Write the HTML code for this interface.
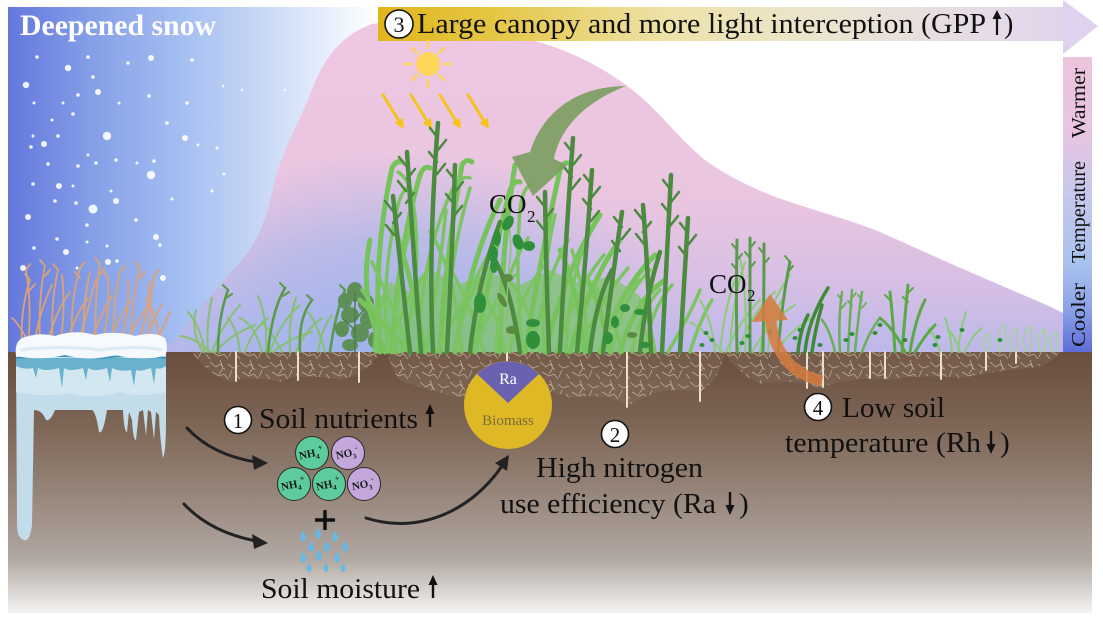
<!DOCTYPE html>
<html><head><meta charset="utf-8"><style>
html,body{margin:0;padding:0;background:#fff;}
svg{display:block;}
text{font-family:"Liberation Serif",serif;}
.l{stroke:#7cc462;fill:none;stroke-width:3.5;stroke-linecap:round}
.lw{stroke:#76c35c;fill:none;stroke-width:5;stroke-linecap:round}
.d{stroke:#4b8a3f;fill:none;stroke-width:4.5;stroke-linecap:round}
.h{stroke:#4b8a3f;fill:none;stroke-width:2.5;stroke-linecap:round}
.s{stroke:#86c070;fill:none;stroke-width:2;stroke-linecap:round}
.sd{stroke:#5a9a4a;fill:none;stroke-width:2.6;stroke-linecap:round}
.t{stroke:#dba276;fill:none;stroke-width:1.8;stroke-linecap:round}
.tf{fill:#fff;opacity:.9}
.lf{fill:#2f8f3a}
</style></head><body>
<svg width="1103" height="623" viewBox="0 0 1103 623" xmlns="http://www.w3.org/2000/svg">
<defs>
<linearGradient id="sky" gradientUnits="userSpaceOnUse" x1="8" y1="0" x2="1092" y2="0">
<stop offset="0" stop-color="#6478dc"/><stop offset="0.08" stop-color="#86a0e8"/><stop offset="0.17" stop-color="#a9c2f2"/><stop offset="0.24" stop-color="#cbdaf6"/><stop offset="0.3" stop-color="#eaf1fc"/><stop offset="0.34" stop-color="#ffffff"/>
</linearGradient>
<linearGradient id="pink" gradientUnits="userSpaceOnUse" x1="0" y1="20" x2="0" y2="352">
<stop offset="0" stop-color="#efc8e2"/><stop offset="0.55" stop-color="#e9c5e0"/><stop offset="0.8" stop-color="#d6bfe4"/><stop offset="1" stop-color="#bcb8ea"/>
</linearGradient>
<radialGradient id="blu" gradientUnits="userSpaceOnUse" cx="400" cy="360" r="290" gradientTransform="translate(400 360) scale(1 0.72) translate(-400 -360)">
<stop offset="0" stop-color="#98b0ec" stop-opacity="0.95"/><stop offset="0.6" stop-color="#a4b6ec" stop-opacity="0.6"/><stop offset="1" stop-color="#a8b8ec" stop-opacity="0"/>
</radialGradient>
<linearGradient id="ban" gradientUnits="userSpaceOnUse" x1="378" y1="0" x2="1098" y2="0">
<stop offset="0" stop-color="#e1b51c"/><stop offset="0.15" stop-color="#e5c540"/><stop offset="0.4" stop-color="#ede2a8"/><stop offset="0.62" stop-color="#ebe4cf"/><stop offset="0.85" stop-color="#e5dbe8"/><stop offset="1" stop-color="#dfd2ee"/>
</linearGradient>
<linearGradient id="temp" gradientUnits="userSpaceOnUse" x1="0" y1="57" x2="0" y2="352">
<stop offset="0" stop-color="#ecc4de"/><stop offset="0.25" stop-color="#e8c5e0"/><stop offset="0.45" stop-color="#c8c8ec"/><stop offset="0.7" stop-color="#a9c2ee"/><stop offset="0.85" stop-color="#8ca4e6"/><stop offset="1" stop-color="#5e6cd6"/>
</linearGradient>
<linearGradient id="soil" gradientUnits="userSpaceOnUse" x1="0" y1="352" x2="0" y2="613">
<stop offset="0" stop-color="#6a4e3d"/><stop offset="0.1" stop-color="#705646"/><stop offset="0.3" stop-color="#7f6858"/><stop offset="0.49" stop-color="#917f72"/><stop offset="0.68" stop-color="#a59890"/><stop offset="0.8" stop-color="#b2a9a3"/><stop offset="0.9" stop-color="#d4cfcc"/><stop offset="1" stop-color="#f4f3f3"/>
</linearGradient>
<pattern id="rp" patternUnits="userSpaceOnUse" width="30" height="20">
<path d="M0,2 l6,5 l4,-3 l5,6 M10,0 l3,8 l-4,6 M18,4 l5,4 l6,-2 M22,10 l-3,7 M2,12 l7,4 l5,-2 M14,14 l4,5 M26,14 l4,5" stroke="#bfac99" stroke-width="0.8" fill="none"/>
</pattern>
</defs>

<rect width="1103" height="623" fill="#fff"/>
<!-- sky -->
<rect x="8" y="7" width="1084" height="346" fill="url(#sky)"/>
<!-- mountain -->
<path d="M165,352 C185,325 215,290 240,262 C262,238 268,210 275,180 C285,145 300,120 312,90 C322,62 340,35 372,24 C420,18 500,30 545,44 C580,55 610,72 635,92 C660,112 680,140 705,160 C730,178 760,192 790,202 C820,212 850,220 880,232 C920,250 960,268 1000,285 C1030,298 1050,306 1063,313 L1063,352 Z" fill="url(#pink)"/>
<path d="M165,352 C185,325 215,290 240,262 C262,238 268,210 275,180 C285,145 300,120 312,90 C322,62 340,35 372,24 C420,18 500,30 545,44 C580,55 610,72 635,92 C660,112 680,140 705,160 C730,178 760,192 790,202 C820,212 850,220 880,232 C920,250 960,268 1000,285 C1030,298 1050,306 1063,313 L1063,352 Z" fill="url(#blu)"/>

<!-- banner -->
<rect x="378" y="7" width="686" height="34" fill="url(#ban)"/>
<polygon points="1063,0 1098,26 1063,54" fill="#dfd2ee"/>
<circle cx="399" cy="24" r="14" fill="#fff" stroke="#111" stroke-width="1.6"/>
<text x="399" y="32" font-size="22" text-anchor="middle" fill="#111">3</text>
<text x="417" y="33" font-size="28" fill="#111" textLength="569" lengthAdjust="spacingAndGlyphs">Large canopy and more light interception (GPP</text>
<path d="M997,35 L997,17" stroke="#111" stroke-width="2.2"/><polygon points="992.5,19 997,10 1001.5,19" fill="#111"/>
<text x="1004" y="33" font-size="28" fill="#111">)</text>

<!-- temperature bar -->
<rect x="1063" y="57" width="29" height="295" fill="url(#temp)"/>
<text transform="translate(1085 103) rotate(-90)" font-size="20" text-anchor="middle" fill="#111" textLength="70" lengthAdjust="spacingAndGlyphs">Warmer</text>
<text transform="translate(1085 212) rotate(-90)" font-size="20" text-anchor="middle" fill="#111" textLength="102" lengthAdjust="spacingAndGlyphs">Temperature</text>
<text transform="translate(1085 315) rotate(-90)" font-size="20" text-anchor="middle" fill="#111" textLength="64" lengthAdjust="spacingAndGlyphs">Cooler</text>

<!-- title -->
<text x="20" y="35" font-size="30" font-weight="bold" fill="#fff" textLength="196" lengthAdjust="spacingAndGlyphs">Deepened snow</text>

<!-- snowflakes -->
<g class="tf">
<circle cx="37" cy="57" r="1.8"/><circle cx="88" cy="57" r="1.8"/><circle cx="128" cy="63" r="1.8"/><circle cx="192" cy="60" r="1.8"/><circle cx="93" cy="77" r="1.8"/><circle cx="78" cy="95" r="1.8"/><circle cx="149" cy="96" r="1.8"/><circle cx="187" cy="103" r="1.8"/><circle cx="34" cy="103" r="1.5"/><circle cx="63" cy="103" r="1.5"/><circle cx="119" cy="103" r="1.5"/><circle cx="73" cy="114" r="1.8"/><circle cx="167" cy="123" r="1.8"/><circle cx="52" cy="120" r="1.5"/><circle cx="58" cy="136" r="1.8"/><circle cx="33" cy="136" r="1.5"/><circle cx="31" cy="147" r="1.8"/><circle cx="88" cy="155" r="1.5"/><circle cx="96" cy="163" r="1.8"/><circle cx="116" cy="160" r="1.8"/><circle cx="154" cy="161" r="1.8"/><circle cx="78" cy="166" r="1.8"/><circle cx="48" cy="164" r="1.8"/><circle cx="137" cy="163" r="1.5"/><circle cx="33" cy="184" r="1.8"/><circle cx="111" cy="191" r="1.5"/><circle cx="73" cy="186" r="1.5"/><circle cx="55" cy="201" r="1.8"/><circle cx="76" cy="203" r="1.8"/><circle cx="212" cy="191" r="1.5"/><circle cx="172" cy="199" r="1.5"/><circle cx="136" cy="220" r="1.8"/><circle cx="87" cy="225" r="1.8"/><circle cx="57" cy="239" r="1.8"/><circle cx="34" cy="248" r="1.8"/><circle cx="160" cy="245" r="1.8"/><circle cx="87" cy="242" r="1.5"/><circle cx="107" cy="246" r="1.5"/><circle cx="77" cy="268" r="1.5"/><circle cx="117" cy="261" r="1.8"/><circle cx="198" cy="145" r="1.5"/><circle cx="217" cy="148" r="1.5"/><circle cx="224" cy="174" r="1.5"/><circle cx="242" cy="90" r="1.2"/><circle cx="223" cy="86" r="1.2"/><circle cx="285" cy="90" r="1.2"/>
<circle cx="68" cy="68" r="3.2"/><circle cx="26" cy="85" r="3.2"/><circle cx="98" cy="92" r="3"/><circle cx="107" cy="136" r="4.2"/><circle cx="44" cy="144" r="3"/><circle cx="151" cy="175" r="4.2"/><circle cx="93" cy="209" r="4.5"/><circle cx="59" cy="186" r="3"/><circle cx="116" cy="201" r="3"/><circle cx="28" cy="217" r="3"/><circle cx="156" cy="237" r="3"/><circle cx="66" cy="252" r="3"/><circle cx="185" cy="138" r="3"/><circle cx="23" cy="268" r="3"/><circle cx="163" cy="278" r="3"/><circle cx="108" cy="262" r="3"/><circle cx="151" cy="58" r="3"/>
</g>

<!-- sun -->
<g stroke="#fdd35a" stroke-width="2.5" stroke-linecap="round">
<path d="M428,48 L428,41 M428,80 L428,87 M412,64 L405,64 M444,64 L451,64 M417,53 L412,48 M439,53 L444,48 M417,75 L412,80 M439,75 L444,80"/>
</g>
<circle cx="428" cy="64" r="12" fill="#fdd55a"/>
<!-- yellow arrows -->
<g stroke="#f4c41a" stroke-width="3" stroke-linecap="round" fill="#f4c41a">
<path d="M383,95 L399,121"/><polygon points="404,129 394.5,123 403,118" stroke="none"/>
<path d="M411,95 L427,121"/><polygon points="432,129 422.5,123 431,118" stroke="none"/>
<path d="M440,95 L456,121"/><polygon points="461,129 451.5,123 460,118" stroke="none"/>
<path d="M468,95 L484,121"/><polygon points="489,129 479.5,123 488,118" stroke="none"/>
</g>

<!-- soil -->
<rect x="8" y="352" width="1084" height="261" fill="url(#soil)"/>
<!-- root zones -->
<g>
<path d="M192,352 L380,352 Q370,372 340,380 Q300,372 280,382 Q250,375 230,382 Q205,372 192,352 Z" fill="#a08a78" opacity=".2"/>
<path d="M388,352 L725,352 Q720,380 700,392 Q660,385 630,405 Q600,392 570,398 Q540,385 520,395 Q480,388 460,398 Q420,388 400,380 Q390,368 388,352Z" fill="#a08a78" opacity=".2"/>
<path d="M725,352 L1060,352 Q1050,366 1030,368 Q990,372 960,378 Q920,374 890,380 Q850,376 820,388 Q790,378 760,384 Q735,372 725,352Z" fill="#a08a78" opacity=".2"/>
<path d="M192,352 L380,352 Q370,372 340,380 Q300,372 280,382 Q250,375 230,382 Q205,372 192,352 Z" fill="url(#rp)"/>
<path d="M388,352 L725,352 Q720,380 700,392 Q660,385 630,405 Q600,392 570,398 Q540,385 520,395 Q480,388 460,398 Q420,388 400,380 Q390,368 388,352Z" fill="url(#rp)"/>
<path d="M725,352 L1060,352 Q1050,366 1030,368 Q990,372 960,378 Q920,374 890,380 Q850,376 820,388 Q790,378 760,384 Q735,372 725,352Z" fill="url(#rp)"/>
</g>
<!-- taproots -->
<g stroke="#eadfcf" stroke-width="2" stroke-linecap="round">
<path d="M236,352 L236,381 M298,352 L298,380 M359,352 L359,382 M507,352 L507,362 M627,352 L627,407 M700,352 L700,401 M807,352 L807,388 M823,352 L823,387 M870,352 L870,378 M885,352 L885,378 M941,352 L941,379 M986,352 L986,370 M1016,352 L1016,363"/>
</g>

<!-- ice block -->
<path d="M16,352 L166,352 L166,420 Q166,452 163,458 Q160,440 159,415 L156,412 L154,440 L151,412 L148,410 L146,436 L143,410 L139,412 L136,440 Q133,440 132,420 L129,412 L127,432 Q124,432 123,410 L107,410 Q103,435 99,432 Q96,412 92,410 L55,410 Q50,422 46,420 Q42,410 34,410 L32,525 Q30,542 24,540 Q17,538 17,525 Z" fill="#c3dcea"/>
<path d="M16,352 L166,352 L166,392 Q140,398 120,392 Q95,400 70,393 Q45,398 16,392 Z" fill="#d3e7f1"/>
<path d="M16,358 L166,358 L166,366 Q160,370 156,368 L154,384 L151,368 Q140,372 136,370 L134,386 L131,370 Q120,372 112,368 L110,382 L107,368 Q95,372 88,368 L86,380 L83,368 Q70,372 64,368 L62,388 L59,368 Q45,372 38,368 L36,378 L33,368 Q24,370 16,366 Z" fill="#69b1cd"/>
<path d="M16,358 Q60,354 100,358 Q140,354 166,358" stroke="#3f93b8" stroke-width="2" fill="none"/>
<!-- dry grass -->
<g class="t">
<path d="M22,345 Q20,310 30,280"/><path d="M28,345 Q32,305 26,270"/><path d="M34,345 Q40,310 52,285"/><path d="M40,345 Q38,300 45,266"/><path d="M47,345 Q55,312 70,292"/><path d="M53,345 Q50,305 58,270"/><path d="M60,345 Q66,310 62,275"/><path d="M66,345 Q75,315 88,298"/><path d="M72,345 Q70,300 80,268"/><path d="M78,345 Q88,310 95,282"/><path d="M84,345 Q82,305 90,272"/><path d="M90,345 Q100,315 112,296"/><path d="M96,345 Q94,300 100,264"/><path d="M102,345 Q110,312 108,278"/><path d="M108,345 Q118,318 130,302"/><path d="M114,345 Q112,305 120,272"/><path d="M120,345 Q130,312 128,280"/><path d="M126,345 Q136,320 150,305"/><path d="M132,345 Q130,305 140,268"/><path d="M138,345 Q148,315 150,282"/><path d="M144,345 Q152,320 162,305"/><path d="M150,345 Q148,310 154,276"/><path d="M156,345 Q164,325 170,312"/><path d="M160,345 Q158,318 146,298"/><path d="M30,345 Q20,325 12,318"/>
<path d="M30,280 l-5,-6 M30,290 l5,-6 M45,266 l-5,-6 M45,276 l5,-6 M58,270 l-5,-6 M80,268 l5,-6 M80,278 l-5,-6 M100,264 l-5,-6 M100,274 l5,-6 M120,272 l5,-6 M140,268 l-5,-6 M140,278 l5,-6 M154,276 l5,-6 M26,270 l4,-6 M95,282 l4,-6 M108,278 l-4,-6"/>
</g>
<path d="M16,356 Q14,340 25,337 Q40,332 55,336 Q75,329 95,335 Q115,330 135,336 Q155,331 165,338 Q169,348 165,356 Q140,361 115,355 Q90,362 65,355 Q40,361 16,356 Z" fill="#f6f9fd"/>
<path d="M20,350 Q60,345 100,350 Q140,345 162,350" stroke="#dcebf4" stroke-width="3" fill="none"/>

<!-- left small plants -->
<g class="s">
<path d="M205,352 Q200,325 188,312"/><path d="M208,352 Q206,322 212,298"/><path d="M212,352 Q222,325 240,305"/><path d="M215,352 Q230,335 255,325"/><path d="M210,352 Q196,338 180,336"/><path d="M203,352 Q190,330 196,310"/>
<path d="M262,352 Q255,325 240,318"/><path d="M266,352 Q268,320 258,296"/><path d="M270,352 Q280,322 300,305"/><path d="M273,352 Q290,338 312,332"/><path d="M290,352 Q288,320 296,298"/><path d="M296,352 Q305,330 322,318"/><path d="M282,352 Q270,330 262,322"/>
<path d="M325,352 Q318,325 308,312"/><path d="M318,352 Q322,328 332,315"/><path d="M240,352 Q238,330 228,318"/><path d="M245,352 Q252,330 268,318"/>
</g>
<g class="sd">
<path d="M218,352 Q218,318 228,290"/><path d="M268,352 Q272,310 285,288"/><path d="M300,352 Q298,318 312,300"/><path d="M330,352 Q335,315 345,290"/>
<path d="M228,290 l-5,-5 M226,298 l6,-4 M285,288 l-5,-5 M283,296 l6,-4 M312,300 l-5,-5 M345,290 l-5,-5 M343,298 l6,-4" stroke-width="2"/>
</g>
<g fill="#5e8f58">
<ellipse cx="355" cy="292" rx="8" ry="10"/><ellipse cx="345" cy="301" rx="7" ry="8"/><ellipse cx="366" cy="303" rx="8" ry="9"/><ellipse cx="350" cy="315" rx="9" ry="8"/><ellipse cx="368" cy="320" rx="8" ry="9"/><ellipse cx="342" cy="329" rx="7" ry="8"/><ellipse cx="360" cy="333" rx="9" ry="9"/><ellipse cx="374" cy="340" rx="6" ry="8"/><ellipse cx="350" cy="345" rx="8" ry="6"/>
</g>
<path d="M355,352 L355,292 M355,320 L368,305 M355,330 L342,318" stroke="#4e7f4a" stroke-width="1.5" fill="none"/>

<!-- main clump base -->
<path d="M372,352 L375,305 L390,282 L410,292 L430,270 L460,284 L490,272 L520,285 L550,270 L580,284 L610,276 L640,296 L652,352 Z" fill="#7cc462" opacity=".7"/>
<!-- main clump tall wide light blades -->
<g class="lw">
<path d="M380,352 Q372,260 392,168 Q396,160 402,162"/><path d="M392,352 Q398,250 420,175 Q424,165 430,168"/><path d="M440,352 Q445,260 462,165 Q466,158 472,162"/><path d="M455,352 Q470,260 500,200"/><path d="M475,352 Q490,270 510,190 Q514,180 520,182"/><path d="M500,352 Q500,260 515,165"/><path d="M525,352 Q540,260 560,170 Q564,160 570,164"/><path d="M545,352 Q565,270 600,215"/><path d="M570,352 Q590,280 620,240"/><path d="M600,352 Q620,290 655,255"/><path d="M620,352 Q635,300 665,280"/><path d="M385,352 Q358,300 370,240"/><path d="M410,352 Q380,320 360,300"/><path d="M425,352 Q410,270 395,230"/><path d="M585,352 Q575,280 560,250"/><path d="M610,352 Q600,300 585,275"/>
</g>
<!-- main clump light blades -->
<g class="l">
<path d="M388,352 Q380,280 398,205 Q402,190 410,186"/><path d="M396,352 Q395,270 415,215"/><path d="M402,352 Q425,270 412,195 Q408,178 398,172"/><path d="M410,352 Q390,300 372,262"/><path d="M418,352 Q420,260 452,190 Q460,175 470,178"/><path d="M426,352 Q440,270 446,210"/><path d="M436,352 Q470,290 498,236"/><path d="M446,352 Q448,260 470,188"/><path d="M456,352 Q462,300 488,268"/><path d="M462,352 Q455,270 430,232"/><path d="M474,352 Q492,300 515,275"/><path d="M484,352 Q470,300 448,265"/><path d="M496,352 Q500,280 528,238"/><path d="M510,352 Q520,290 548,262"/><path d="M522,352 Q515,270 520,210 Q522,190 530,185"/><path d="M532,352 Q545,280 568,240"/><path d="M544,352 Q540,280 555,215"/><path d="M556,352 Q575,290 604,255"/><path d="M566,352 Q568,280 590,232"/><path d="M578,352 Q600,300 628,268"/><path d="M588,352 Q585,290 572,250"/><path d="M600,352 Q615,300 640,280"/><path d="M612,352 Q620,300 650,270"/><path d="M622,352 Q612,310 596,288"/><path d="M632,352 Q640,310 660,290"/><path d="M398,352 Q376,310 362,290"/><path d="M376,352 Q375,320 386,290"/><path d="M540,352 Q530,300 500,270"/><path d="M645,352 Q650,310 672,285"/><path d="M655,352 Q650,320 640,300"/><path d="M690,352 Q700,320 712,300"/><path d="M668,352 Q690,315 700,290"/><path d="M392,352 Q400,300 430,268"/><path d="M505,352 Q495,300 470,280"/>
</g>
<!-- dark stems -->
<g class="d">
<path d="M433,352 Q428,250 438,123"/><path d="M421,352 Q414,260 407,152"/><path d="M447,352 Q452,260 455,165"/><path d="M410,352 Q403,290 393,196"/><path d="M470,352 Q478,280 500,222"/><path d="M560,352 Q565,250 573,138"/><path d="M577,352 Q586,260 592,170"/><path d="M549,352 Q546,270 545,192"/><path d="M603,352 Q612,280 622,212"/><path d="M662,352 Q667,260 671,175"/><path d="M651,352 Q648,270 643,205"/><path d="M680,352 Q684,280 688,218"/><path d="M640,352 Q645,300 660,252"/><path d="M520,352 Q510,280 490,252"/><path d="M590,352 Q596,300 612,270"/>
</g>
<g class="h">
<path d="M438,138 l-8,-10 M438,150 l8,-10 M437,162 l-8,-10 M437,174 l8,-10"/>
<path d="M407,167 l-8,-10 M407,179 l8,-10 M406,191 l-8,-10 M406,203 l8,-10"/>
<path d="M455,180 l-8,-10 M455,192 l8,-10 M454,204 l-8,-10 M454,216 l8,-10"/>
<path d="M393,211 l-8,-10 M393,223 l8,-10 M394,235 l-8,-10"/>
<path d="M573,153 l-8,-10 M573,165 l8,-10 M572,177 l-8,-10 M572,189 l8,-10"/>
<path d="M592,185 l-8,-10 M592,197 l8,-10 M591,209 l-8,-10 M591,221 l8,-10"/>
<path d="M545,207 l-8,-10 M545,219 l8,-10 M545,231 l-8,-10"/>
<path d="M622,227 l-8,-10 M622,239 l8,-10 M620,251 l-8,-10"/>
<path d="M671,190 l-8,-10 M671,202 l8,-10 M670,214 l-8,-10 M670,226 l8,-10"/>
<path d="M643,220 l-8,-10 M643,232 l8,-10 M644,244 l-8,-10"/>
<path d="M688,233 l-8,-10 M688,245 l8,-10 M687,257 l-8,-10"/>
</g>
<!-- climbing plant -->
<path d="M508,352 Q505,300 510,260 Q512,240 508,223" stroke="#8fbf70" stroke-width="1.5" fill="none"/>
<g class="lf">
<ellipse cx="508" cy="223" rx="5" ry="8" transform="rotate(30 508 223)"/><ellipse cx="497" cy="238" rx="4" ry="8"/><ellipse cx="518" cy="242" rx="5" ry="8" transform="rotate(-20 518 242)"/><ellipse cx="529" cy="246" rx="6" ry="5"/><ellipse cx="493" cy="254" rx="5" ry="8"/><ellipse cx="494" cy="266" rx="4" ry="7"/><ellipse cx="507" cy="278" rx="6" ry="4" fill="#5a8a40"/><ellipse cx="480" cy="303" rx="6" ry="10"/><ellipse cx="502" cy="300" rx="3" ry="8" fill="#5a8a40" transform="rotate(-30 502 300)"/><ellipse cx="512" cy="330" rx="6" ry="4" fill="#5a8a40"/><ellipse cx="533" cy="323" rx="7" ry="4"/><ellipse cx="533" cy="340" rx="7" ry="9"/>
<ellipse cx="615" cy="322" rx="4" ry="6"/><ellipse cx="625" cy="308" rx="5" ry="4"/><ellipse cx="640" cy="312" rx="6" ry="3"/><ellipse cx="608" cy="338" rx="5" ry="6"/><ellipse cx="632" cy="335" rx="5" ry="3" fill="#5a8a40"/><ellipse cx="645" cy="345" rx="6" ry="3"/>
</g>

<!-- right plants -->
<g stroke="#8bcc78" stroke-width="2" fill="none" stroke-linecap="round">
<path d="M715,352 Q712,320 700,300"/><path d="M720,352 Q724,310 735,280"/><path d="M726,352 Q740,320 760,300"/><path d="M730,352 Q732,300 745,262"/><path d="M738,352 Q752,310 775,292"/><path d="M745,352 Q748,300 740,258"/><path d="M752,352 Q770,320 795,305"/><path d="M760,352 Q765,310 790,275"/><path d="M768,352 Q770,320 782,300"/><path d="M776,352 Q790,330 812,318"/><path d="M722,352 Q705,330 690,322"/>
<path d="M952,352 Q950,330 945,318"/><path d="M958,352 Q960,330 966,312"/><path d="M965,352 Q972,335 982,328"/><path d="M960,352 Q955,335 948,330"/><path d="M940,352 Q935,335 928,328"/>
</g>
<g stroke="#5a9a4c" stroke-width="3" fill="none" stroke-linecap="round">
<path d="M737,352 Q736,300 737,240"/><path d="M750,352 Q750,300 750,238"/><path d="M763,352 Q764,300 764,244"/><path d="M778,352 Q782,300 790,262"/>
<path d="M737,250 l-5,-6 M737,260 l5,-6 M737,270 l-5,-6 M750,248 l5,-6 M750,258 l-5,-6 M750,268 l5,-6 M764,254 l-5,-6 M764,264 l5,-6 M790,262 l-5,-6 M788,272 l5,-6" stroke-width="2"/>
</g>
<g stroke="#3f8a38" stroke-width="3.5" fill="none" stroke-linecap="round">
<path d="M805,352 Q808,320 828,288"/><path d="M812,352 Q815,330 822,305"/><path d="M798,352 Q800,330 808,315"/>
</g>
<g stroke="#6aae5a" stroke-width="2.5" fill="none" stroke-linecap="round">
<path d="M840,352 Q838,320 842,292"/><path d="M848,352 Q850,315 852,290"/><path d="M855,352 Q858,318 862,292"/><path d="M835,352 Q830,330 822,320"/><path d="M862,352 Q870,330 880,318"/>
<path d="M842,300 l-4,-5 M842,308 l4,-5 M852,298 l4,-5 M852,306 l-4,-5 M862,300 l-4,-5 M862,308 l4,-5" stroke-width="1.8"/>
</g>
<g stroke="#5aa848" stroke-width="3" fill="none" stroke-linecap="round">
<path d="M895,352 Q893,320 890,292"/><path d="M902,352 Q905,315 908,285"/><path d="M910,352 Q915,320 925,300"/><path d="M905,352 Q895,330 880,318"/><path d="M915,352 Q925,335 935,325"/>
<path d="M890,300 l-5,-5 M908,293 l5,-5 M908,302 l-5,-5" stroke-width="2"/>
</g>
<g stroke="#a4d494" stroke-width="1.5" fill="none">
<path d="M1000,352 Q993,335 1004,325 Q1008,340 1003,352"/><path d="M1012,352 Q1006,338 1016,328 Q1020,342 1015,352"/><path d="M1026,352 Q1019,336 1030,326 Q1034,340 1029,352"/><path d="M1040,352 Q1034,338 1044,329 Q1048,342 1043,352"/><path d="M1052,352 Q1047,340 1056,332 Q1060,344 1055,352"/><path d="M985,352 Q980,340 988,333 Q992,344 988,352"/>
</g>
<g fill="#2f8c3a">
<ellipse cx="706" cy="333" rx="2.5" ry="2"/><ellipse cx="712" cy="340" rx="2.5" ry="2"/><ellipse cx="702" cy="345" rx="2.5" ry="2"/><ellipse cx="742" cy="343" rx="2.5" ry="2"/><ellipse cx="748" cy="336" rx="2.5" ry="2"/><ellipse cx="800" cy="330" rx="2.5" ry="2"/><ellipse cx="795" cy="338" rx="2.5" ry="2"/><ellipse cx="846" cy="340" rx="2.5" ry="2"/><ellipse cx="852" cy="334" rx="2.5" ry="2"/><ellipse cx="880" cy="325" rx="2.5" ry="2"/><ellipse cx="875" cy="333" rx="2.5" ry="2"/><ellipse cx="905" cy="340" rx="2.5" ry="2"/><ellipse cx="935" cy="345" rx="2.5" ry="2"/><ellipse cx="938" cy="337" rx="2.5" ry="2"/><ellipse cx="962" cy="330" rx="2.5" ry="2"/><ellipse cx="1000" cy="340" rx="2.5" ry="2"/><ellipse cx="770" cy="332" rx="2.5" ry="2"/><ellipse cx="820" cy="345" rx="2.5" ry="2"/>
</g>

<!-- green arrow -->
<path d="M626,86 C585,86 545,105 530,152 L512,157 L533,196 L567,165 L554,159 C560,125 590,100 626,86 Z" fill="#7d9e62" opacity=".92"/>
<!-- orange arrow -->
<g opacity=".85">
<path d="M822,381 Q790,374 777,345 Q771,333 771,318" stroke="#d57b3e" stroke-width="11" fill="none"/>
<polygon points="752,322 770,294 788,320" fill="#d57b3e"/>
</g>

<!-- CO2 labels -->
<text x="489" y="213" font-size="27" fill="#111">CO</text><text x="527" y="222" font-size="17" fill="#111">2</text>
<text x="709" y="293" font-size="27" fill="#111">CO</text><text x="747" y="301" font-size="17" fill="#111">2</text>

<!-- biomass pie -->
<circle cx="508" cy="405" r="44" fill="#dfb826"/>
<path d="M508,403 L477,374 A44,44 0 0 1 539,374 Z" fill="#6a62b0"/>
<text x="508" y="384" font-size="16" text-anchor="middle" fill="#fff">Ra</text>
<text x="508" y="425" font-size="15" text-anchor="middle" fill="#7a6c38">Biomass</text>

<!-- labels 1 -->
<circle cx="238" cy="420" r="13.5" fill="#fff" stroke="#111" stroke-width="1.6"/>
<text x="238" y="428" font-size="21" text-anchor="middle" fill="#111">1</text>
<text x="259" y="428" font-size="29" fill="#111" textLength="159" lengthAdjust="spacingAndGlyphs">Soil nutrients</text>
<path d="M430,427 L430,412" stroke="#111" stroke-width="2.4"/><polygon points="425.5,414 430,404 434.5,414" fill="#111"/>

<!-- nutrient circles -->
<g stroke="#2a2a2a" stroke-width="1">
<circle cx="312" cy="453" r="16.5" fill="#5ecb9c"/><circle cx="348" cy="453" r="16.5" fill="#c4a8dc"/>
<circle cx="294" cy="484" r="16.5" fill="#5ecb9c"/><circle cx="329" cy="484" r="16.5" fill="#5ecb9c"/><circle cx="364" cy="484" r="16.5" fill="#c4a8dc"/>
</g>
<g font-size="11" font-weight="bold" fill="#1a1a1a" text-anchor="middle">
<text x="311" y="457" transform="rotate(-12 311 453)">NH<tspan font-size="7" dy="3">4</tspan><tspan font-size="8" dy="-8">+</tspan></text>
<text x="347" y="457" transform="rotate(-12 347 453)">NO<tspan font-size="7" dy="3">3</tspan><tspan font-size="8" dy="-8">-</tspan></text>
<text x="293" y="488" transform="rotate(-12 293 484)">NH<tspan font-size="7" dy="3">4</tspan><tspan font-size="8" dy="-8">+</tspan></text>
<text x="328" y="488" transform="rotate(-12 328 484)">NH<tspan font-size="7" dy="3">4</tspan><tspan font-size="8" dy="-8">+</tspan></text>
<text x="363" y="488" transform="rotate(-12 363 484)">NO<tspan font-size="7" dy="3">3</tspan><tspan font-size="8" dy="-8">-</tspan></text>
</g>
<path d="M325,510 L325,530 M315,520 L335,520" stroke="#111" stroke-width="3.5"/>
<!-- water drops -->
<g fill="#6ab8e2">
<path d="M303,531 q-6,8 0,11 q6,-3 0,-11z"/><path d="M318,528 q-6,8 0,11 q6,-3 0,-11z"/><path d="M335,531 q-6,8 0,11 q6,-3 0,-11z"/>
<path d="M311,541 q-6,8 0,11 q6,-3 0,-11z"/><path d="M327,541 q-6,8 0,11 q6,-3 0,-11z"/><path d="M345,541 q-6,8 0,11 q6,-3 0,-11z"/>
<path d="M303,552 q-6,8 0,11 q6,-3 0,-11z"/><path d="M319,550 q-6,8 0,11 q6,-3 0,-11z"/><path d="M337,552 q-6,8 0,11 q6,-3 0,-11z"/>
<path d="M309,563 q-5,7 0,9 q5,-2 0,-9z"/><path d="M326,563 q-5,7 0,9 q5,-2 0,-9z"/><path d="M343,563 q-5,7 0,9 q5,-2 0,-9z"/>
</g>
<text x="261" y="598" font-size="29" fill="#111" textLength="159" lengthAdjust="spacingAndGlyphs">Soil moisture</text>
<path d="M433,598 L433,583" stroke="#111" stroke-width="2.4"/><polygon points="428.5,585 433,575 437.5,585" fill="#111"/>

<!-- black curved arrows -->
<g stroke="#222" stroke-width="3" fill="none" stroke-linecap="round">
<path d="M187,428 Q212,455 256,462"/>
<path d="M184,504 Q210,532 256,541"/>
<path d="M366,518 C420,535 472,510 502,466"/>
</g>
<g fill="#222">
<polygon points="268,463 252,455 254,470"/>
<polygon points="268,543 252,534 254,549"/>
<polygon points="509,455 495,463 507,471"/>
</g>

<!-- labels 2 -->
<circle cx="615" cy="434" r="13.5" fill="#fff" stroke="#111" stroke-width="1.6"/>
<text x="615" y="442" font-size="21" text-anchor="middle" fill="#111">2</text>
<text x="536" y="477" font-size="29" fill="#111" textLength="167" lengthAdjust="spacingAndGlyphs">High nitrogen</text>
<text x="500" y="513" font-size="29" fill="#111" textLength="216" lengthAdjust="spacingAndGlyphs">use efficiency (Ra</text>
<path d="M730,492 L730,507" stroke="#111" stroke-width="2.4"/><polygon points="725.5,505 730,515 734.5,505" fill="#111"/>
<text x="739" y="513" font-size="29" fill="#111">)</text>

<!-- labels 4 -->
<circle cx="818" cy="407" r="13.5" fill="#fff" stroke="#111" stroke-width="1.6"/>
<text x="818" y="415" font-size="21" text-anchor="middle" fill="#111">4</text>
<text x="842" y="417" font-size="29" fill="#111" textLength="103" lengthAdjust="spacingAndGlyphs">Low soil</text>
<text x="785" y="452" font-size="29" fill="#111" textLength="196" lengthAdjust="spacingAndGlyphs">temperature (Rh</text>
<path d="M991,431 L991,446" stroke="#111" stroke-width="2.4"/><polygon points="986.5,444 991,454 995.5,444" fill="#111"/>
<text x="1000" y="452" font-size="29" fill="#111">)</text>
</svg>
</body></html>
